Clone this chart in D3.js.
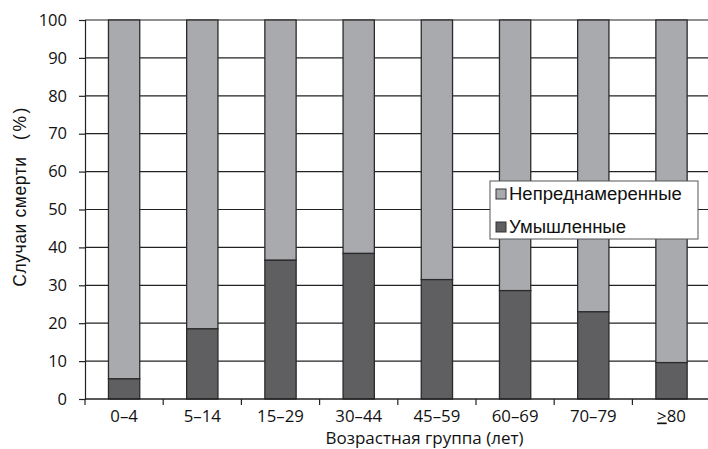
<!DOCTYPE html>
<html><head><meta charset="utf-8">
<script src="https://cdn.jsdelivr.net/npm/d3@7"></script>
<style>
body{margin:0;background:#fff;}
text{font-family:"Open Sans","Noto Sans",sans-serif;fill:#111;}
</style></head>
<body><svg id="c" width="708" height="449"></svg>
<script>
const categories = ["0–4","5–14","15–29","30–44","45–59","60–69","70–79","≥80"];
const intentional = [5.3,18.5,36.6,38.4,31.5,28.6,23.0,9.6];
const unintentional = intentional.map(v => 100 - v);
const yTicks = [0,10,20,30,40,50,60,70,80,90,100];
const seriesNames = ["Непреднамеренные","Умышленные"];
const colors = {light:"#a9aaad", dark:"#5f5f62"};

const svg = d3.select("#c");
const x = d3.scaleBand().domain(categories).range([85, 85 + 78.2*8]).paddingInner(0.6).paddingOuter(0.3);
const y = d3.scaleLinear().domain([0,100]).range([399,20]);

function fit(sel, target){
  const n = sel.node(); const fs = parseFloat(sel.attr("font-size"));
  const w = n.getComputedTextLength();
  if (w > 0) sel.attr("font-size", (fs*target/w).toFixed(2));
  return sel;
}

// gridlines
svg.append("g").selectAll("line").data(yTicks.filter(d=>d>0)).join("line")
  .attr("x1",85).attr("x2",708).attr("y1",d=>y(d)).attr("y2",d=>y(d))
  .attr("stroke","#222").attr("stroke-width",1.2);

// bars (stacked)
const g = svg.append("g");
categories.forEach((c,i)=>{
  g.append("rect").attr("x",x(c)).attr("width",x.bandwidth())
    .attr("y",y(intentional[i] + unintentional[i])).attr("height",y(intentional[i]) - y(intentional[i] + unintentional[i]))
    .attr("fill",colors.light).attr("stroke","#2b2b2b").attr("stroke-width",1.3);
  g.append("rect").attr("x",x(c)).attr("width",x.bandwidth())
    .attr("y",y(intentional[i])).attr("height",y(0)-y(intentional[i]))
    .attr("fill",colors.dark).attr("stroke","#2b2b2b").attr("stroke-width",1.3);
});

// y axis
const ya = svg.append("g").attr("transform","translate(85,0)")
  .call(d3.axisLeft(y).tickValues(yTicks).tickSize(6).tickPadding(12));
ya.select(".domain").attr("stroke","#222").attr("stroke-width",1.2);
ya.selectAll(".tick line").attr("stroke","#222").attr("stroke-width",1.2);
ya.selectAll(".tick text").attr("font-size",16.5).attr("font-family","Open Sans, Noto Sans, sans-serif").attr("fill","#111");

// x axis baseline and ticks at band boundaries
svg.append("line").attr("x1",85).attr("x2",708).attr("y1",399).attr("y2",399).attr("stroke","#222").attr("stroke-width",1.5);
const bounds = d3.range(0,9).map(i=>85+78.2*i);
svg.append("g").selectAll("line").data(bounds).join("line")
  .attr("x1",d=>d).attr("x2",d=>d).attr("y1",399).attr("y2",405)
  .attr("stroke","#222").attr("stroke-width",1.2);
const xl = svg.append("g").selectAll("text").data(categories).join("text")
  .attr("x",d=>x(d)+x.bandwidth()/2).attr("y",421.5).attr("text-anchor","middle")
  .attr("font-size",16.8);
xl.each(function(d){
  const t = d3.select(this);
  if(d.startsWith("≥")){
    t.append("tspan").attr("text-decoration","underline").text(">");
    t.append("tspan").text(d.slice(1));
  } else t.text(d);
});

svg.append("text").attr("x",424.5).attr("y",444).attr("text-anchor","middle").attr("font-size",17)
  .text("Возрастная группа (лет)");

const yl = svg.append("text").attr("transform","translate(26,196) rotate(-90)").attr("text-anchor","middle")
  .attr("font-size",17.5)
  .style("font-family","'Liberation Sans', Arial, sans-serif")
  .attr("xml:space","preserve").style("white-space","pre");
yl.append("tspan").attr("letter-spacing",0.6).text("Случаи смерти   ");
yl.append("tspan").attr("letter-spacing",2.5).text("(%)");

// legend
const lg = svg.append("g");
lg.append("rect").attr("x",490).attr("y",181).attr("width",208).attr("height",58)
  .attr("fill","#fff").attr("stroke","#555").attr("stroke-width",1);
let lfs = null;
[[colors.light,seriesNames[0],194],[colors.dark,seriesNames[1],227]].forEach(([col,name,cy],k)=>{
  lg.append("rect").attr("x",496).attr("y",cy-5).attr("width",10).attr("height",10)
    .attr("fill",col).attr("stroke","#333").attr("stroke-width",1);
  const t = lg.append("text").attr("x",509).attr("y",cy+6).attr("font-size",17)
    .style("font-family","'Liberation Sans', Arial, sans-serif").text(name);
  if (k===0){ fit(t,173); lfs = t.attr("font-size"); } else t.attr("font-size",lfs);
});
</script></body></html>
